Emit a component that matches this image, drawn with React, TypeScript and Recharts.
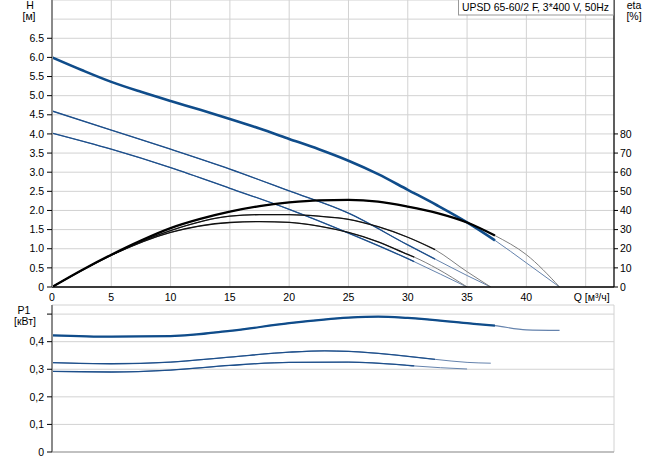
import React from "react"
import { LineChart, Line, XAxis, YAxis, CartesianGrid } from "recharts"

// axis ticks
const qTicks = [0, 5, 10, 15, 20, 25, 30, 35, 40, 45]
const hTicks = [0, 0.5, 1, 1.5, 2, 2.5, 3, 3.5, 4, 4.5, 5, 5.5, 6, 6.5, 7]
const etaTicks = [0, 10, 20, 30, 40, 50, 60, 70, 80]
const pTicks = [0, 0.1, 0.2, 0.3, 0.4, 0.5]

// head H [m] vs Q [m3/h]
const headMax = [[0, 6.0], [2.5, 5.67], [5, 5.36], [7.5, 5.1], [10, 4.86], [12.5, 4.63], [15, 4.39], [17.5, 4.14], [20, 3.87], [22.5, 3.6], [25, 3.3], [27.5, 2.95], [30, 2.54], [32.5, 2.13], [35, 1.69], [37.35, 1.22]]
const headMaxTail = [[40, 0.63], [42.8, 0]]
const headMid = [[0, 4.6], [5, 4.1], [10, 3.6], [15, 3.08], [20, 2.51], [25, 1.93], [30, 1.1], [32.3, 0.73]]
const headMidTail = [[35, 0.3], [37, 0]]
const headLow = [[0, 4.02], [5, 3.6], [10, 3.12], [15, 2.58], [20, 2.03], [25, 1.41], [30, 0.74], [30.55, 0.66]]
const headLowTail = [[35, 0]]

// efficiency eta [%]
const etaMax = [[0, 0], [2.5, 8.8], [5, 16.9], [7.5, 24.3], [10, 30.8], [12.5, 35.6], [15, 39.4], [17.5, 42.3], [20, 44.2], [22.5, 45.3], [25, 45.5], [27.5, 44.6], [30, 42.0], [32.5, 38.6], [35, 33.7], [37.35, 26.9]]
const etaMaxTail = [[40, 16.9], [42.8, 0]]
const etaMid = [[0, 0], [5, 16.7], [10, 29.5], [15, 37.0], [17.5, 37.8], [20, 37.8], [22.5, 37.0], [25, 35.4], [27.5, 31.5], [30, 26.0], [32.3, 19.5]]
const etaMidTail = [[35, 8], [37, 0]]
const etaLow = [[0, 0], [5, 16.6], [10, 28.5], [15, 33.7], [17.5, 34.2], [20, 33.8], [22.5, 31.8], [25, 28.5], [27.5, 23.6], [30, 17.0], [30.55, 15.6]]
const etaLowTail = [[32.5, 9.5], [35, 0]]

// power P1 [kW]
const powerMax = [[0, 0.423], [5, 0.418], [10, 0.42], [15, 0.439], [20, 0.467], [25, 0.487], [27.5, 0.491], [30, 0.486], [35, 0.467], [37.35, 0.458]]
const powerMaxTail = [[40, 0.443], [42.8, 0.441]]
const powerMid = [[0, 0.324], [5, 0.32], [10, 0.326], [15, 0.344], [20, 0.362], [23, 0.367], [25, 0.365], [30, 0.347], [32.3, 0.336]]
const powerMidTail = [[35, 0.325], [37, 0.322]]
const powerLow = [[0, 0.292], [5, 0.29], [10, 0.297], [15, 0.314], [20, 0.325], [25, 0.326], [30, 0.314], [30.55, 0.312]]
const powerLowTail = [[35, 0.301]]

const pts = (rows: number[][]) => rows.map(([q, v]) => ({ q, v }))

const FONT = "Arial, 'Liberation Sans', sans-serif"
const GRID = "#d2d2d2"
const BLUE = "#0f4c8a"
const BLUE_THIN = "#1d4f8b"
const BLUE_TAIL = "#6583ad"
const GREY_TAIL = "#808080"

const HeadTick = (props: any) => {
  const { x, y, payload } = props
  const v = payload.value
  if (v === 7) return <g />
  return (
    <g>
      <line x1={x - 5} x2={x} y1={y} y2={y} stroke="#000" />
      <text x={x - 8} y={y} dy="0.35em" textAnchor="end" fontSize={10.5} fontFamily={FONT} fill="#000">
        {v === 0 ? "0" : v.toFixed(1)}
      </text>
    </g>
  )
}

const PowerTick = (props: any) => {
  const { x, y, payload } = props
  const v = payload.value
  return (
    <g>
      <line x1={x - 5} x2={x} y1={y} y2={y} stroke="#000" />
      {v !== 0.5 && (
        <text x={x - 8} y={y} dy="0.35em" textAnchor="end" fontSize={10.5} fontFamily={FONT} fill="#000">
          {v === 0 ? "0" : v.toFixed(1).replace(".", ",")}
        </text>
      )}
    </g>
  )
}

const FlowTick = (props: any) => {
  const { x, y, payload } = props
  if (payload.value === 45) {
    return (
      <text x={x - 12} y={y} dy="0.71em" textAnchor="start" fontSize={10.5} fontFamily={FONT} fill="#000">
        Q [м³/ч]
      </text>
    )
  }
  return (
    <text x={x} y={y} dy="0.71em" textAnchor="middle" fontSize={10.5} fontFamily={FONT} fill="#000">
      {payload.value}
    </text>
  )
}

const line = (key: string, rows: number[][], stroke: string, width: number, yAxisId = "h") => (
  <Line
    key={key}
    data={pts(rows)}
    dataKey="v"
    yAxisId={yAxisId}
    type="monotone"
    stroke={stroke}
    strokeWidth={width}
    dot={false}
    activeDot={false}
    isAnimationActive={false}
  />
)

export default function App() {
  return (
    <div style={{ position: "absolute", left: 0, top: 0, width: 656, height: 460, background: "#fff", fontFamily: FONT }}>
      <div style={{ position: "absolute", left: 0, top: 0 }}>
        <LineChart width={656} height={310} margin={{ top: 0, right: 0, bottom: 0, left: 0 }}>
          <CartesianGrid stroke={GRID} strokeWidth={1} yAxisId="h" />
          <XAxis
            dataKey="q"
            type="number"
            domain={[0, 47.39]}
            ticks={qTicks}
            interval={0}
            height={23}
            tickSize={5}
            tickMargin={2}
            tickLine={false}
            axisLine={{ stroke: "#000", strokeWidth: 1.5 }}
            tick={FlowTick}
            allowDataOverflow
          />
          <YAxis
            yAxisId="h"
            type="number"
            domain={[0, 7.5]}
            ticks={hTicks}
            interval={0}
            width={52}
            tickSize={0}
            tickMargin={0}
            tickLine={false}
            axisLine={{ stroke: "#8a8a8a", strokeWidth: 2 }}
            tick={HeadTick}
            allowDataOverflow
          />
          <YAxis
            yAxisId="eta"
            orientation="right"
            type="number"
            domain={[0, 150]}
            ticks={etaTicks}
            interval={0}
            width={42}
            tickSize={4}
            tickMargin={2}
            tickLine={{ stroke: "#000" }}
            axisLine={{ stroke: "#000", strokeWidth: 1.2 }}
            tick={{ fontSize: 10.5, fontFamily: FONT, fill: "#000" }}
            allowDataOverflow
          />
          {line("hMaxT", [...headMax, ...headMaxTail], BLUE_TAIL, 1)}
          {line("hMidT", [...headMid, ...headMidTail], BLUE_TAIL, 1)}
          {line("hLowT", [...headLow, ...headLowTail], BLUE_TAIL, 1)}
          {line("eMaxT", [...etaMax, ...etaMaxTail], GREY_TAIL, 1, "eta")}
          {line("eMidT", [...etaMid, ...etaMidTail], GREY_TAIL, 1, "eta")}
          {line("eLowT", [...etaLow, ...etaLowTail], GREY_TAIL, 1, "eta")}
          {line("hMid", headMid, BLUE_THIN, 1.3)}
          {line("hLow", headLow, BLUE_THIN, 1.3)}
          {line("hMax", headMax, BLUE, 2.6)}
          {line("eMid", etaMid, "#111", 1.3, "eta")}
          {line("eLow", etaLow, "#111", 1.3, "eta")}
          {line("eMax", etaMax, "#000", 2.3, "eta")}
        </LineChart>
      </div>
      <div style={{ position: "absolute", left: 0, top: 300 }}>
        <LineChart width={656} height={160} margin={{ top: 5, right: 42, bottom: 0, left: 0 }}>
          <CartesianGrid stroke={GRID} strokeWidth={1} yAxisId="p" />
          <XAxis
            dataKey="q"
            type="number"
            domain={[0, 47.39]}
            ticks={qTicks}
            interval={0}
            height={8}
            tick={false}
            tickLine={false}
            axisLine={{ stroke: "#999" }}
            allowDataOverflow
          />
          <XAxis
            xAxisId="top"
            orientation="top"
            dataKey="q"
            type="number"
            domain={[0, 47.39]}
            height={0}
            tick={false}
            tickLine={false}
            axisLine={{ stroke: "#999" }}
          />
          <YAxis
            yAxisId="p"
            type="number"
            domain={[0, 0.533]}
            ticks={pTicks}
            interval={0}
            width={52}
            tickSize={0}
            tickMargin={0}
            tickLine={false}
            axisLine={{ stroke: "#8a8a8a", strokeWidth: 2 }}
            tick={PowerTick}
            allowDataOverflow
          />
          <YAxis
            yAxisId="edge"
            orientation="right"
            width={0}
            tick={false}
            tickLine={false}
            axisLine={{ stroke: "#999" }}
          />
          {line("pMaxT", [...powerMax, ...powerMaxTail], BLUE_TAIL, 1.2, "p")}
          {line("pMidT", [...powerMid, ...powerMidTail], BLUE_TAIL, 1, "p")}
          {line("pLowT", [...powerLow, ...powerLowTail], BLUE_TAIL, 1, "p")}
          {line("pMax", powerMax, BLUE, 2.2, "p")}
          {line("pMid", powerMid, BLUE_THIN, 1.3, "p")}
          {line("pLow", powerLow, BLUE_THIN, 1.3, "p")}
        </LineChart>
      </div>
      <svg width={656} height={460} style={{ position: "absolute", left: 0, top: 0, pointerEvents: "none" }}>
        <g fontSize={10.5} fontFamily={FONT} fill="#000" textAnchor="middle">
          <text x={30} y={9}>H</text>
          <text x={29} y={20}>[м]</text>
          <text x={634} y={9}>eta</text>
          <text x={634} y={20}>[%]</text>
          <text x={24} y={314}>P1</text>
          <text x={25} y={325}>[кВт]</text>
        </g>
        <rect x={458.5} y={-1} width={155} height={16} fill="#fff" stroke="#999" />
        <text x={462} y={11} fontSize={10.4} fontFamily={FONT} fill="#000">
          UPSD 65-60/2 F, 3*400 V, 50Hz
        </text>
      </svg>
    </div>
  )
}
